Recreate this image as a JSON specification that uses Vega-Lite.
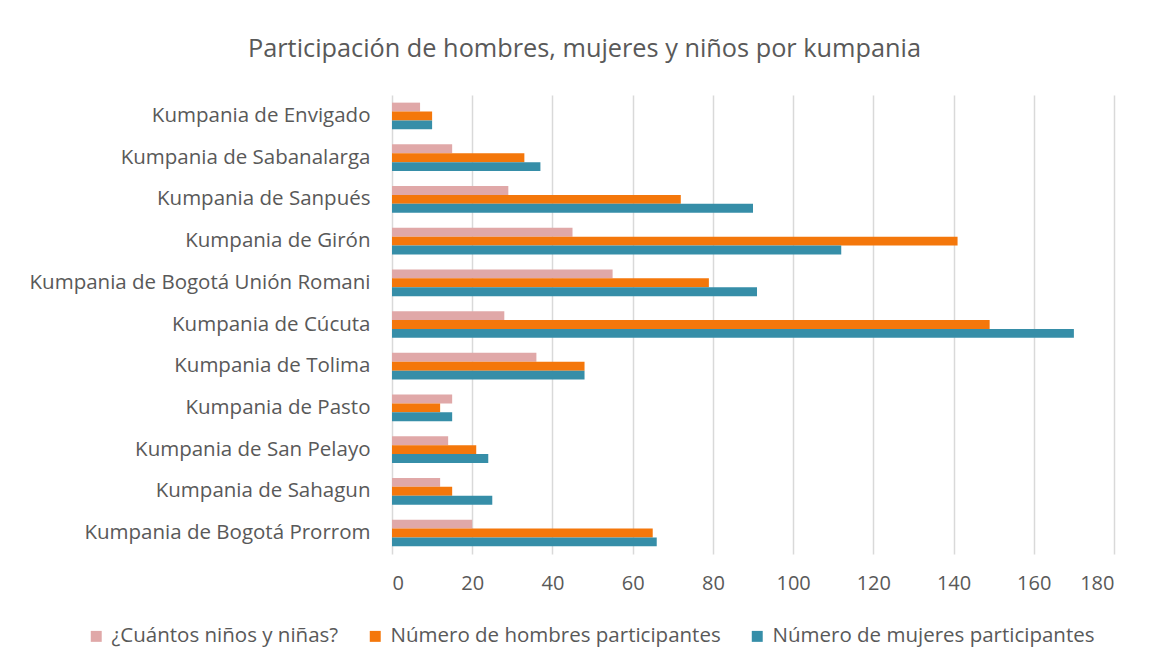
{
  "$schema": "https://vega.github.io/schema/vega-lite/v6.json",
  "autosize": {"type": "none"},
  "width": 722,
  "height": 459,
  "padding": {"left": 392, "top": 95, "right": 42, "bottom": 118},
  "background": "white",
  "title": {
    "text": "Participación de hombres, mujeres y niños por kumpania",
    "anchor": "start",
    "frame": "group",
    "dx": -144,
    "offset": 33,
    "font": "Open Sans",
    "fontSize": 25.3,
    "fontWeight": "normal",
    "color": "#595959"
  },
  "data": {
    "values": [
      {"kumpania": "Kumpania de Envigado", "serie": "¿Cuántos niños y niñas?", "valor": 7},
      {"kumpania": "Kumpania de Envigado", "serie": "Número de hombres participantes", "valor": 10},
      {"kumpania": "Kumpania de Envigado", "serie": "Número de mujeres participantes", "valor": 10},
      {"kumpania": "Kumpania de Sabanalarga", "serie": "¿Cuántos niños y niñas?", "valor": 15},
      {"kumpania": "Kumpania de Sabanalarga", "serie": "Número de hombres participantes", "valor": 33},
      {"kumpania": "Kumpania de Sabanalarga", "serie": "Número de mujeres participantes", "valor": 37},
      {"kumpania": "Kumpania de Sanpués", "serie": "¿Cuántos niños y niñas?", "valor": 29},
      {"kumpania": "Kumpania de Sanpués", "serie": "Número de hombres participantes", "valor": 72},
      {"kumpania": "Kumpania de Sanpués", "serie": "Número de mujeres participantes", "valor": 90},
      {"kumpania": "Kumpania de Girón", "serie": "¿Cuántos niños y niñas?", "valor": 45},
      {"kumpania": "Kumpania de Girón", "serie": "Número de hombres participantes", "valor": 141},
      {"kumpania": "Kumpania de Girón", "serie": "Número de mujeres participantes", "valor": 112},
      {"kumpania": "Kumpania de Bogotá Unión Romani", "serie": "¿Cuántos niños y niñas?", "valor": 55},
      {"kumpania": "Kumpania de Bogotá Unión Romani", "serie": "Número de hombres participantes", "valor": 79},
      {"kumpania": "Kumpania de Bogotá Unión Romani", "serie": "Número de mujeres participantes", "valor": 91},
      {"kumpania": "Kumpania de Cúcuta", "serie": "¿Cuántos niños y niñas?", "valor": 28},
      {"kumpania": "Kumpania de Cúcuta", "serie": "Número de hombres participantes", "valor": 149},
      {"kumpania": "Kumpania de Cúcuta", "serie": "Número de mujeres participantes", "valor": 170},
      {"kumpania": "Kumpania de Tolima", "serie": "¿Cuántos niños y niñas?", "valor": 36},
      {"kumpania": "Kumpania de Tolima", "serie": "Número de hombres participantes", "valor": 48},
      {"kumpania": "Kumpania de Tolima", "serie": "Número de mujeres participantes", "valor": 48},
      {"kumpania": "Kumpania de Pasto", "serie": "¿Cuántos niños y niñas?", "valor": 15},
      {"kumpania": "Kumpania de Pasto", "serie": "Número de hombres participantes", "valor": 12},
      {"kumpania": "Kumpania de Pasto", "serie": "Número de mujeres participantes", "valor": 15},
      {"kumpania": "Kumpania de San Pelayo", "serie": "¿Cuántos niños y niñas?", "valor": 14},
      {"kumpania": "Kumpania de San Pelayo", "serie": "Número de hombres participantes", "valor": 21},
      {"kumpania": "Kumpania de San Pelayo", "serie": "Número de mujeres participantes", "valor": 24},
      {"kumpania": "Kumpania de Sahagun", "serie": "¿Cuántos niños y niñas?", "valor": 12},
      {"kumpania": "Kumpania de Sahagun", "serie": "Número de hombres participantes", "valor": 15},
      {"kumpania": "Kumpania de Sahagun", "serie": "Número de mujeres participantes", "valor": 25},
      {"kumpania": "Kumpania de Bogotá Prorrom", "serie": "¿Cuántos niños y niñas?", "valor": 20},
      {"kumpania": "Kumpania de Bogotá Prorrom", "serie": "Número de hombres participantes", "valor": 65},
      {"kumpania": "Kumpania de Bogotá Prorrom", "serie": "Número de mujeres participantes", "valor": 66}
    ]
  },
  "mark": {"type": "bar", "cornerRadius": 0},
  "encoding": {
    "y": {
      "field": "kumpania",
      "type": "nominal",
      "sort": ["Kumpania de Envigado", "Kumpania de Sabanalarga", "Kumpania de Sanpués", "Kumpania de Girón", "Kumpania de Bogotá Unión Romani", "Kumpania de Cúcuta", "Kumpania de Tolima", "Kumpania de Pasto", "Kumpania de San Pelayo", "Kumpania de Sahagun", "Kumpania de Bogotá Prorrom"],
      "scale": {"paddingInner": 0.36, "paddingOuter": 0.183},
      "axis": {
        "title": null,
        "ticks": false,
        "domain": false,
        "grid": false,
        "labelPadding": 22,
        "labelFont": "Open Sans",
        "labelFontSize": 20.5,
        "labelColor": "#595959",
        "labelLimit": 400
      }
    },
    "x": {
      "field": "valor",
      "type": "quantitative",
      "scale": {"domain": [0, 180], "nice": false},
      "axis": {
        "title": null,
        "values": [0, 20, 40, 60, 80, 100, 120, 140, 160, 180],
        "ticks": false,
        "domain": false,
        "grid": true,
        "gridColor": "#d9d9d9",
        "gridWidth": 1.5,
        "labelPadding": 19,
        "labelFont": "Open Sans",
        "labelFontSize": 20,
        "labelColor": "#595959"
      }
    },
    "yOffset": {
      "field": "serie",
      "type": "nominal",
      "sort": ["¿Cuántos niños y niñas?", "Número de hombres participantes", "Número de mujeres participantes"]
    },
    "color": {
      "field": "serie",
      "type": "nominal",
      "sort": ["¿Cuántos niños y niñas?", "Número de hombres participantes", "Número de mujeres participantes"],
      "scale": {
        "domain": ["¿Cuántos niños y niñas?", "Número de hombres participantes", "Número de mujeres participantes"],
        "range": ["#E0A8A8", "#F4770B", "#368EA8"]
      },
      "legend": {
        "title": null,
        "orient": "none",
        "direction": "horizontal",
        "legendX": -306,
        "legendY": 531,
        "symbolType": "square",
        "symbolSize": 120,
        "symbolStrokeWidth": 0,
        "labelFont": "Open Sans",
        "labelFontSize": 20.5,
        "labelColor": "#595959",
        "labelLimit": 500,
        "columnPadding": 26,
        "labelOffset": 5
      }
    }
  },
  "config": {
    "view": {"stroke": null}
  }
}
